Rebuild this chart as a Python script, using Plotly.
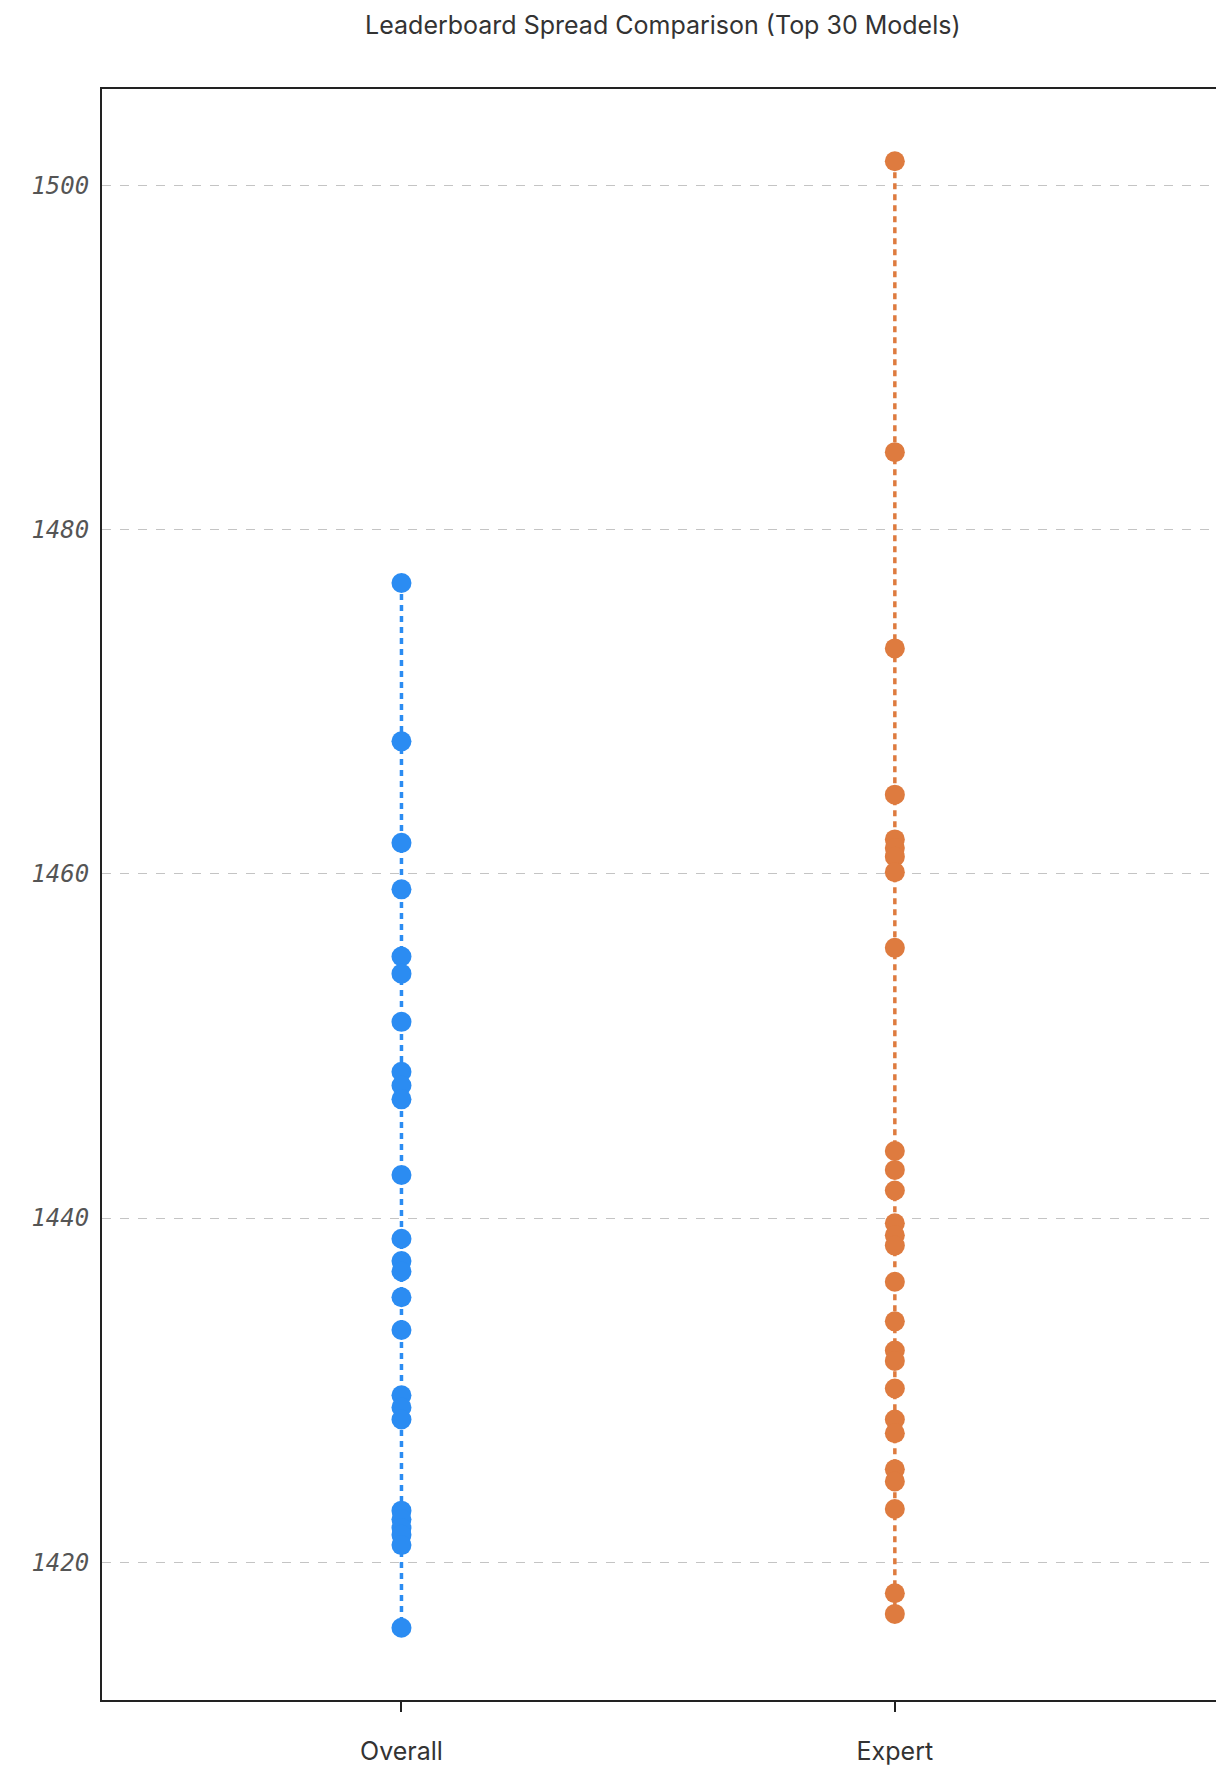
import plotly.graph_objects as go

categories = ["Overall", "Expert"]
overall = [1476.9, 1467.7, 1461.8, 1459.1, 1455.2, 1454.2, 1451.4, 1448.5, 1447.7, 1446.9,
           1442.5, 1438.8, 1437.5, 1436.9, 1435.4, 1433.5, 1429.7, 1429.0, 1428.3, 1423.0,
           1422.5, 1422.0, 1421.6, 1421.0, 1416.2]
expert = [1501.4, 1484.5, 1473.1, 1464.6, 1462.0, 1461.5, 1461.0, 1460.1, 1455.7, 1443.9,
          1442.8, 1441.6, 1439.7, 1439.0, 1438.4, 1436.3, 1434.0, 1432.3, 1431.7, 1430.1,
          1428.3, 1427.5, 1425.4, 1424.7, 1423.1, 1418.2, 1417.0]
colors = ["#2b8cf2", "#de7b3f"]

fig = go.Figure()
for i, (vals, c) in enumerate([(overall, colors[0]), (expert, colors[1])]):
    fig.add_trace(go.Scatter(x=[i] * len(vals), y=vals, mode="lines+markers",
                             line=dict(color=c, width=3.5, dash="6px,5px"),
                             marker=dict(color=c, size=20), showlegend=False))

fig.update_layout(
    width=1224, height=1778, plot_bgcolor="white", paper_bgcolor="white",
    margin=dict(l=94, r=14, t=81, b=86),
    title=dict(text="Leaderboard Spread Comparison (Top 30 Models)", x=0.535, y=0.995,
               xanchor="center", yanchor="top", font=dict(family="Inter", size=25, color="#333")),
    font=dict(family="Inter", color="#333"),
)
fig.update_xaxes(tickvals=[0, 1], ticktext=categories, range=[-0.607, 1.655],
                 showline=True, linecolor="#222", linewidth=2, mirror=True,
                 ticks="outside", ticklen=10, tickwidth=2, tickcolor="#222",
                 showgrid=False, zeroline=False, tickfont=dict(size=25, family="Inter"),
                 ticklabelstandoff=18)
fig.update_yaxes(range=[1412.0, 1505.6], tickvals=[1420, 1440, 1460, 1480, 1500],
                 ticktext=["<i>1420</i>", "<i>1440</i>", "<i>1460</i>", "<i>1480</i>", "<i>1500</i>"],
                 showline=True, linecolor="#222", linewidth=2, mirror=True,
                 showgrid=True, gridcolor="#c4c4c4", griddash="dash", gridwidth=1,
                 zeroline=False, ticks="", ticklabelstandoff=6,
                 tickfont=dict(size=24, family="DejaVu Sans Mono", color="#555"))
fig.write_html("out.html")
